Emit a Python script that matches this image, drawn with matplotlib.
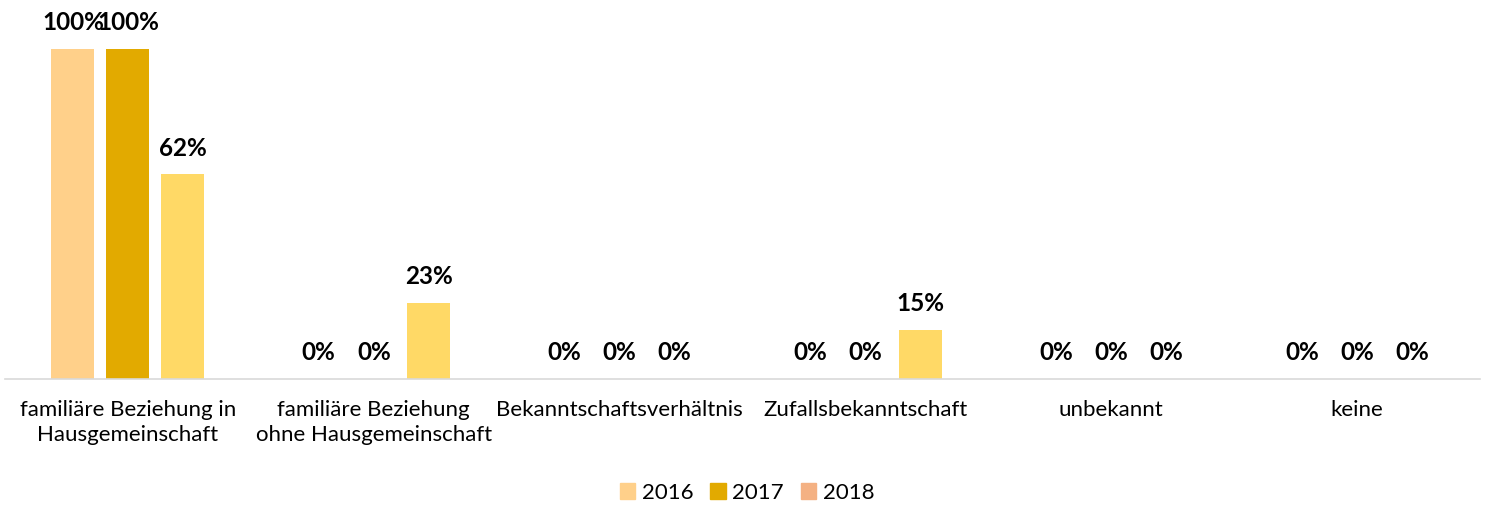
import numpy as np
import matplotlib as mpl
from matplotlib import pyplot as plt
from matplotlib.patches import Patch

mpl.rcParams.update({
    'font.family': ['Lato', 'DejaVu Sans'],
    'font.size': 16,
})

categories = ['familiäre Beziehung in\nHausgemeinschaft',
              'familiäre Beziehung\nohne Hausgemeinschaft',
              'Bekanntschaftsverhältnis',
              'Zufallsbekanntschaft',
              'unbekannt',
              'keine']
years = ['2016', '2017', '2018']
vals_2016 = [100, 0, 0, 0, 0, 0]
vals_2017 = [100, 0, 0, 0, 0, 0]
vals_2018 = [62, 23, 0, 15, 0, 0]

bar_colors = ['#FFD08A', '#E2AA00', '#FFD966']
legend_colors = ['#FFD08A', '#E2AA00', '#F4B183']

fig = plt.figure(figsize=(14.9, 5.07), dpi=100)
ax = fig.add_axes([5/1490, 1 - 379/507, 1475/1490, 330/507])

x = np.arange(len(categories))
width = 0.175
step = 0.224
for i, vals in enumerate([vals_2016, vals_2017, vals_2018]):
    pos = x + (i - 1) * step
    ax.bar(pos, vals, width=width, color=bar_colors[i])
    for p, v in zip(pos, vals):
        ax.text(p, v + 4.5, '%d%%' % v, ha='center', va='bottom',
                fontsize=17.5, fontweight='bold', color='black')

ax.set_xlim(-0.5, len(categories) - 0.5)
ax.set_ylim(0, 100)
ax.set_xticks(x)
ax.set_xticklabels(categories, fontsize=16, linespacing=1.3)
ax.tick_params(axis='x', length=0, pad=15)
ax.set_yticks([])
for s in ['top', 'right', 'left']:
    ax.spines[s].set_visible(False)
ax.spines['bottom'].set_color('#D9D9D9')
ax.spines['bottom'].set_linewidth(1.2)

handles = [Patch(color=c, label=y) for c, y in zip(legend_colors, years)]
fig.legend(handles=handles, loc='center', bbox_to_anchor=(747/1490, 1 - 493/507),
           ncol=3, frameon=False, fontsize=16, handlelength=0.7, handleheight=0.7,
           handletextpad=0.3, columnspacing=0.75)

fig.savefig('out.png', dpi=100)
